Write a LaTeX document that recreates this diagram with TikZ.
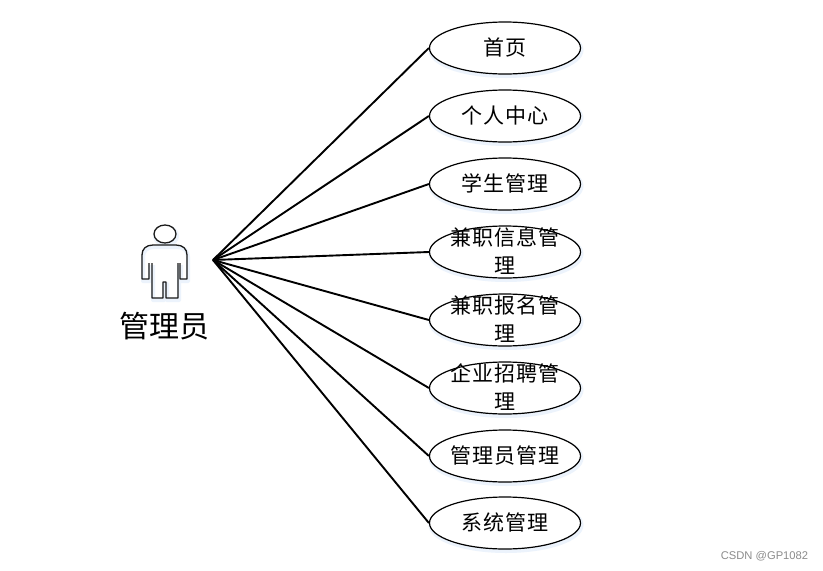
\documentclass[tikz,border=0pt]{standalone}
\usepackage{fontspec}
\usetikzlibrary{shapes.geometric}
\newfontfamily\cjk{Noto Sans CJK SC}[LetterSpace=5,Scale=1]
\newfontfamily\cjkb{Noto Sans CJK SC}
\setsansfont{Liberation Sans}
\definecolor{glow}{RGB}{236,243,252}
\tikzset{
  uc/.style={ellipse,draw=black,line width=1.2pt,fill=white,minimum width=151pt,minimum height=52pt,inner sep=0pt,
    preaction={draw=glow,line width=4pt,transform canvas={xshift=1pt,yshift=-2pt}}},
  uclabel/.style={font=\cjk\fontsize{21}{28}\selectfont,align=center,inner sep=0pt,text=black,yshift=0.5pt},
  link/.style={line width=1.9pt,draw=black},
  manline/.style={line width=1.3pt,draw=black!90,line join=round},
  manglow/.style={line width=4pt,draw=glow,line join=round,transform canvas={xshift=1pt,yshift=-2pt}}
}
\begin{document}
\begin{tikzpicture}[x=1pt,y=-1pt]
\useasboundingbox (0,0) rectangle (823,571);
\fill[white] (0,0) rectangle (823,571);
\coordinate (hub) at (213,260);
\foreach \n/\yy/\t in {a/48/首页,b/116/个人中心,c/184/学生管理,d/252/{兼职信息管\\理},e/320/{兼职报名管\\理},f/388/{企业招聘管\\理},g/456/管理员管理,h/523/系统管理}{
  \node[uc,label={[uclabel]center:\t}] (\n) at (505,\yy) {};
}
\foreach \n in {a,b,c,d,e,f,g,h}{
  \draw[link] (hub) -- (\n.west);
}
% actor
\foreach \s in {manglow,manline}{
  \draw[\s,fill=white] (165,234) ellipse (11 and 9);
  \draw[\s] (164,245) -- (153,245) .. controls (146,245) and (142,249) .. (142,255)
    -- (142,279) -- (149,279) -- (149,263) (152,263) -- (152,298) -- (163,298) -- (163,282) -- (166,282) -- (166,298) -- (178,298) -- (178,263)
    (180,263) -- (180,279) -- (187,279) -- (187,255) .. controls (187,249) and (183,245) .. (176,245) -- (164,245);
}
\node[font=\cjkb\fontsize{30}{32}\selectfont,inner sep=0pt,text=black] (actor) at (164.5,326) {管理员};
\node[font=\sffamily\fontsize{11.2}{13}\selectfont,text=black!45,inner sep=0pt] (wm) at (764.5,556.5) {CSDN @GP1082};
\end{tikzpicture}
\end{document}
